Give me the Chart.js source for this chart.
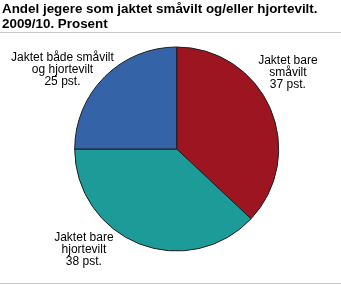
<!DOCTYPE html>
<html>
<head>
<meta charset="utf-8">
<script src="https://cdn.jsdelivr.net/npm/chart.js@4/dist/chart.umd.min.js"></script>
<style>
  html, body { margin: 0; padding: 0; background: #fff; }
  #pie { display: block; }
</style>
</head>
<body>
<canvas id="pie" width="341" height="285"></canvas>
<script>
// ── Data ──
const titleLines = ['Andel jegere som jaktet småvilt og/eller hjortevilt.', '2009/10. Prosent'];
const categories = ['Jaktet bare småvilt', 'Jaktet bare hjortevilt', 'Jaktet både småvilt og hjortevilt'];
const labelLines = [
  ['Jaktet bare', 'småvilt'],
  ['Jaktet bare', 'hjortevilt'],
  ['Jaktet både småvilt', 'og hjortevilt']
];
const shares = [37, 38, 25];
const COLORS = ['#9c1520', '#1c9b98', '#3563a8'];

// label anchor, in units of the pie radius from its centre
const LABEL_POS = [[1.09, -0.75], [-0.91, 0.99], [-1.12, -0.78]];

const FONT = '"Liberation Sans", Arial, Helvetica, sans-serif';

// ── Decorations: title, rules, slice labels ──
const decor = {
  id: 'decor',
  afterDraw(chart) {
    const c = chart.ctx;
    c.save();
    c.fillStyle = '#000';
    c.font = 'bold 13.4px ' + FONT;
    c.textAlign = 'left';
    c.textBaseline = 'alphabetic';
    titleLines.forEach((t, i) => c.fillText(t, 2, 13 + i * 15));

    c.strokeStyle = '#c8c8c8';
    c.lineWidth = 1;
    c.beginPath();
    c.moveTo(0, 32.5); c.lineTo(chart.width, 32.5);
    c.moveTo(0, 283.5); c.lineTo(chart.width, 283.5);
    c.stroke();

    const arc = chart.getDatasetMeta(0).data[0];
    const r = arc.outerRadius;
    c.font = '12px ' + FONT;
    c.textAlign = 'center';
    c.textBaseline = 'middle';
    shares.forEach((v, i) => {
      const [fx, fy] = LABEL_POS[i];
      const x = arc.x + fx * r;
      const y = arc.y + fy * r;
      const lines = [...labelLines[i], v + ' pst.'];
      lines.forEach((l, j) => c.fillText(l, x, y + (j - 1) * 11.8));
    });
    c.restore();
  }
};

const ctx = document.getElementById('pie').getContext('2d');
new Chart(ctx, {
  type: 'pie',
  data: {
    labels: categories,
    datasets: [{
      data: shares,
      backgroundColor: COLORS,
      borderColor: '#1e1e1e',
      borderWidth: 1,
    }]
  },
  options: {
    responsive: false,
    animation: false,
    layout: { padding: { top: 46.5, bottom: 33.5, left: 74.2, right: 61.8 } },
    plugins: {
      legend: { display: false },
      tooltip: { enabled: false },
      title: { display: false }
    }
  },
  plugins: [decor]
});
</script>
</body>
</html>
